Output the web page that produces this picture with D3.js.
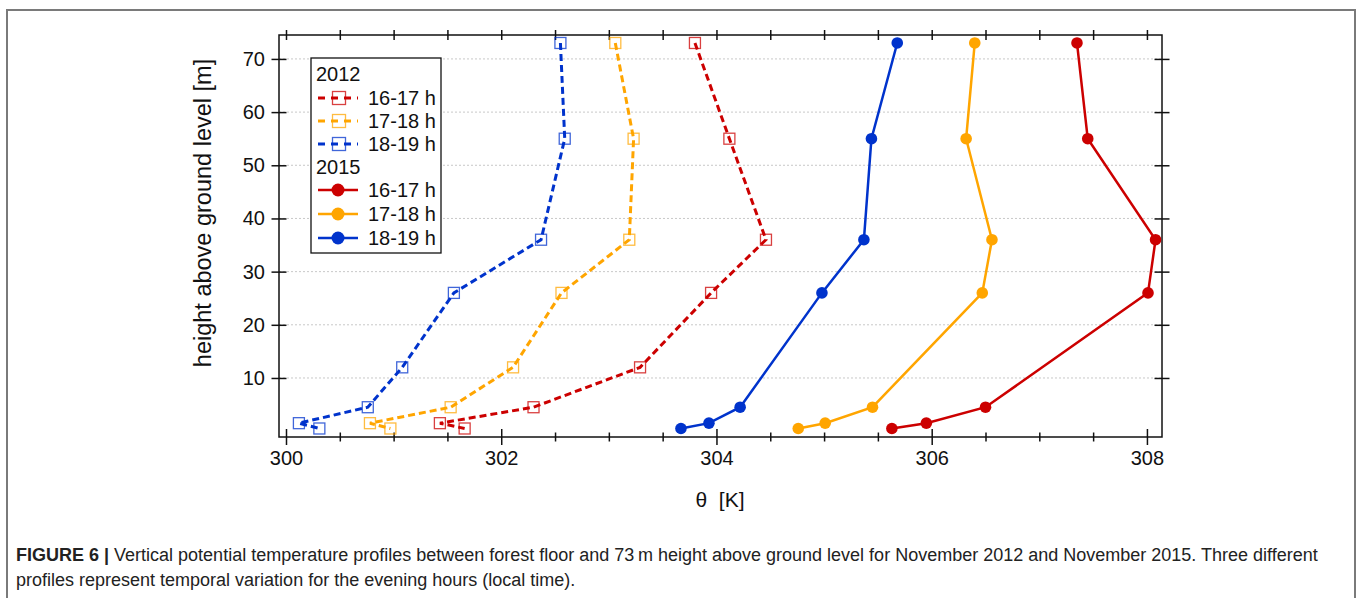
<!DOCTYPE html>
<html>
<head>
<meta charset="utf-8">
<script src="https://cdn.jsdelivr.net/npm/d3@7"></script>
<style>
	html, body { margin: 0; padding: 0; background: #fff; }
	svg { display: block; font-family: "Liberation Sans", Arial, sans-serif; }
	.caption { font-family: "Liberation Sans", Arial, sans-serif; font-size: 18px; }
</style>
</head>
<body>
<svg id="profile-chart" width="1358" height="598"></svg>
<script>
// heights of the measuring levels [m]
var heights2012 = [73, 55, 36, 26, 12, 4.5, 1.5, 0.5];
var heights2015 = [73, 55, 36, 26, 4.5, 1.5, 0.5];

// potential temperature [K], one array per evening hour
var theta2012h16 = [303.80, 304.12, 304.46, 303.95, 303.29, 302.30, 301.43, 301.66];
var theta2012h17 = [303.06, 303.23, 303.19, 302.56, 302.11, 301.53, 300.78, 300.97];
var theta2012h18 = [302.55, 302.59, 302.37, 301.56, 301.08, 300.76, 300.12, 300.31];
var theta2015h16 = [307.35, 307.45, 308.08, 308.01, 306.50, 305.95, 305.63];
var theta2015h17 = [306.40, 306.32, 306.56, 306.47, 305.45, 305.01, 304.76];
var theta2015h18 = [305.68, 305.44, 305.37, 304.98, 304.22, 303.93, 303.67];

var periods = ['16-17 h', '17-18 h', '18-19 h'];
var years = ['2012', '2015'];
var xTickValues = [300, 302, 304, 306, 308];
var xMinorValues = [300.5, 301, 301.5, 302.5, 303, 303.5, 304.5, 305, 305.5, 306.5, 307, 307.5];
var yTickValues = [10, 20, 30, 40, 50, 60, 70];

window.app = window.app || {};

window.app.profileChart = (function() {

	'use strict';

	var svg = d3.select('#profile-chart'),
		colors = ['#cc0000', '#ffa500', '#0033cc'],
		plot = {left: 279, right: 1162, top: 35, bottom: 437},
		xScale,
		yScale,
		series;

	var initScales = function() {
		xScale = d3.scaleLinear()
			.domain([299.935, 308.14])
			.range([plot.left, plot.right]);

		yScale = d3.scaleLinear()
			.domain([-1.1, 74.5])
			.range([plot.bottom, plot.top]);
	};

	var initData = function() {
		var t2012 = [theta2012h16, theta2012h17, theta2012h18],
			t2015 = [theta2015h16, theta2015h17, theta2015h18];

		series = [];
		periods.forEach(function(p, i) {
			series.push({year: years[0], period: p, color: colors[i], dashed: true,
				values: heights2012.map(function(h, j) { return {h: h, t: t2012[i][j]}; })});
		});
		periods.forEach(function(p, i) {
			series.push({year: years[1], period: p, color: colors[i], dashed: false,
				values: heights2015.map(function(h, j) { return {h: h, t: t2015[i][j]}; })});
		});
	};

	var drawFrame = function() {
		// outer figure border
		svg.append('path')
			.attr('d', 'M7,610 V10 H1355 V610')
			.attr('fill', 'none')
			.attr('stroke', '#7a7a7a')
			.attr('stroke-width', 2);

		// horizontal dotted gridlines
		svg.append('g')
			.selectAll('line')
			.data(yTickValues)
			.enter()
			.append('line')
			.attr('x1', plot.left)
			.attr('x2', plot.right)
			.attr('y1', function(d) { return yScale(d); })
			.attr('y2', function(d) { return yScale(d); })
			.attr('stroke', '#c8c8c8')
			.attr('stroke-width', 1)
			.attr('stroke-dasharray', '2,2');
	};

	// draw an axis where the ticks cross the frame line
	var crossAxis = function(axis, transform, values, half, vertical, labels) {
		var g = svg.append('g')
			.attr('transform', transform)
			.call(axis.tickValues(values).tickSize(0).tickPadding(labels ? 14 : 0)
				.tickFormat(labels ? d3.format('d') : ''));

		g.select('.domain').remove();
		g.selectAll('.tick text')
			.attr('font-size', 20)
			.attr('font-family', '"Liberation Sans", Arial, sans-serif')
			.attr('fill', '#111');
		g.selectAll('.tick line')
			.attr(vertical ? 'x1' : 'y1', -half)
			.attr(vertical ? 'x2' : 'y2', half)
			.attr('stroke', '#111')
			.attr('stroke-width', 1.5);
		return g;
	};

	var createAxes = function() {
		crossAxis(d3.axisBottom(xScale), 'translate(0,' + plot.bottom + ')', xTickValues, 8, false, true);
		crossAxis(d3.axisBottom(xScale), 'translate(0,' + plot.bottom + ')', xMinorValues, 4.5, false, false);
		crossAxis(d3.axisTop(xScale), 'translate(0,' + plot.top + ')', xTickValues.concat(xMinorValues), 5, false, false);
		crossAxis(d3.axisLeft(yScale), 'translate(' + plot.left + ',0)', yTickValues, 7.5, true, true);
		crossAxis(d3.axisRight(yScale), 'translate(' + plot.right + ',0)', yTickValues, 7.5, true, false);

		svg.append('rect')
			.attr('x', plot.left)
			.attr('y', plot.top)
			.attr('width', plot.right - plot.left)
			.attr('height', plot.bottom - plot.top)
			.attr('fill', 'none')
			.attr('stroke', '#111')
			.attr('stroke-width', 1.5);

		svg.append('text')
			.attr('x', 720)
			.attr('y', 507)
			.attr('text-anchor', 'middle')
			.attr('font-size', 21)
			.attr('fill', '#111')
			.attr('xml:space', 'preserve')
			.text('θ  [K]');

		svg.append('text')
			.attr('transform', 'translate(211,213) rotate(-90)')
			.attr('text-anchor', 'middle')
			.attr('font-size', 23.5)
			.attr('fill', '#111')
			.text('height above ground level [m]');
	};

	var drawSeries = function() {
		var line = d3.line()
			.x(function(d) { return xScale(d.t); })
			.y(function(d) { return yScale(d.h); });

		series.forEach(function(s) {
			svg.append('path')
				.datum(s.values)
				.attr('d', line)
				.attr('fill', 'none')
				.attr('stroke', s.color)
				.attr('stroke-width', s.dashed ? 3 : 2.5)
				.attr('stroke-dasharray', s.dashed ? '7,4' : null);

			var marks = svg.append('g')
				.selectAll('.mark')
				.data(s.values)
				.enter();

			if (s.dashed) {
				marks.append('rect')
					.attr('x', function(d) { return xScale(d.t) - 5.5; })
					.attr('y', function(d) { return yScale(d.h) - 5.5; })
					.attr('width', 11)
					.attr('height', 11)
					.attr('fill', 'none')
					.attr('stroke', s.color)
					.attr('stroke-opacity', 0.75)
					.attr('stroke-width', 1.3);
			} else {
				marks.append('circle')
					.attr('cx', function(d) { return xScale(d.t); })
					.attr('cy', function(d) { return yScale(d.h); })
					.attr('r', 5.8)
					.attr('fill', s.color);
			}
		});
	};

	var drawLegend = function() {
		var lg = svg.append('g');

		lg.append('rect')
			.attr('x', 311).attr('y', 58)
			.attr('width', 130).attr('height', 195)
			.attr('fill', '#fff')
			.attr('stroke', '#111')
			.attr('stroke-width', 1.3);

		var rowY = [74, 98, 121, 144, 167, 190, 214, 238];

		years.forEach(function(year, yi) {
			lg.append('text')
				.attr('x', 316)
				.attr('y', rowY[yi * 4])
				.attr('dy', '0.36em')
				.attr('font-size', 20)
				.attr('fill', '#111')
				.text(year);

			series.filter(function(s) { return s.year === year; }).forEach(function(s, i) {
				var cy = rowY[yi * 4 + i + 1];

				lg.append('line')
					.attr('x1', 318).attr('x2', 358)
					.attr('y1', cy).attr('y2', cy)
					.attr('stroke', s.color)
					.attr('stroke-width', s.dashed ? 3 : 2.5)
					.attr('stroke-dasharray', s.dashed ? '7,6' : null);

				if (s.dashed) {
					lg.append('rect')
						.attr('x', 332.5).attr('y', cy - 6.5)
						.attr('width', 13).attr('height', 13)
						.attr('fill', 'none')
						.attr('stroke', s.color)
						.attr('stroke-opacity', 0.75)
						.attr('stroke-width', 1.3);
				} else {
					lg.append('circle')
						.attr('cx', 338).attr('cy', cy)
						.attr('r', 6.5)
						.attr('fill', s.color);
				}

				lg.append('text')
					.attr('x', 368)
					.attr('y', cy)
					.attr('dy', '0.36em')
					.attr('font-size', 20)
					.attr('fill', '#111')
					.text(s.period);
			});
		});
	};

	var drawCaption = function() {
		var line1 = svg.append('text')
			.attr('class', 'caption')
			.attr('x', 16)
			.attr('y', 561)
			.attr('fill', '#222');

		line1.append('tspan')
			.attr('font-weight', 'bold')
			.text('FIGURE 6 | ');
		line1.append('tspan')
			.text('Vertical potential temperature profiles between forest floor and 73\u2009m height above ground level for November 2012 and November 2015. Three different');

		svg.append('text')
			.attr('class', 'caption')
			.attr('x', 16)
			.attr('y', 586)
			.attr('fill', '#222')
			.text('profiles represent temporal variation for the evening hours (local time).');
	};

	var init = function() {
		initScales();
		initData();
		drawFrame();
		createAxes();
		drawSeries();
		drawLegend();
		drawCaption();
	};

	return {
		init: init
	};

})();

window.app.profileChart.init();
</script>
</body>
</html>
